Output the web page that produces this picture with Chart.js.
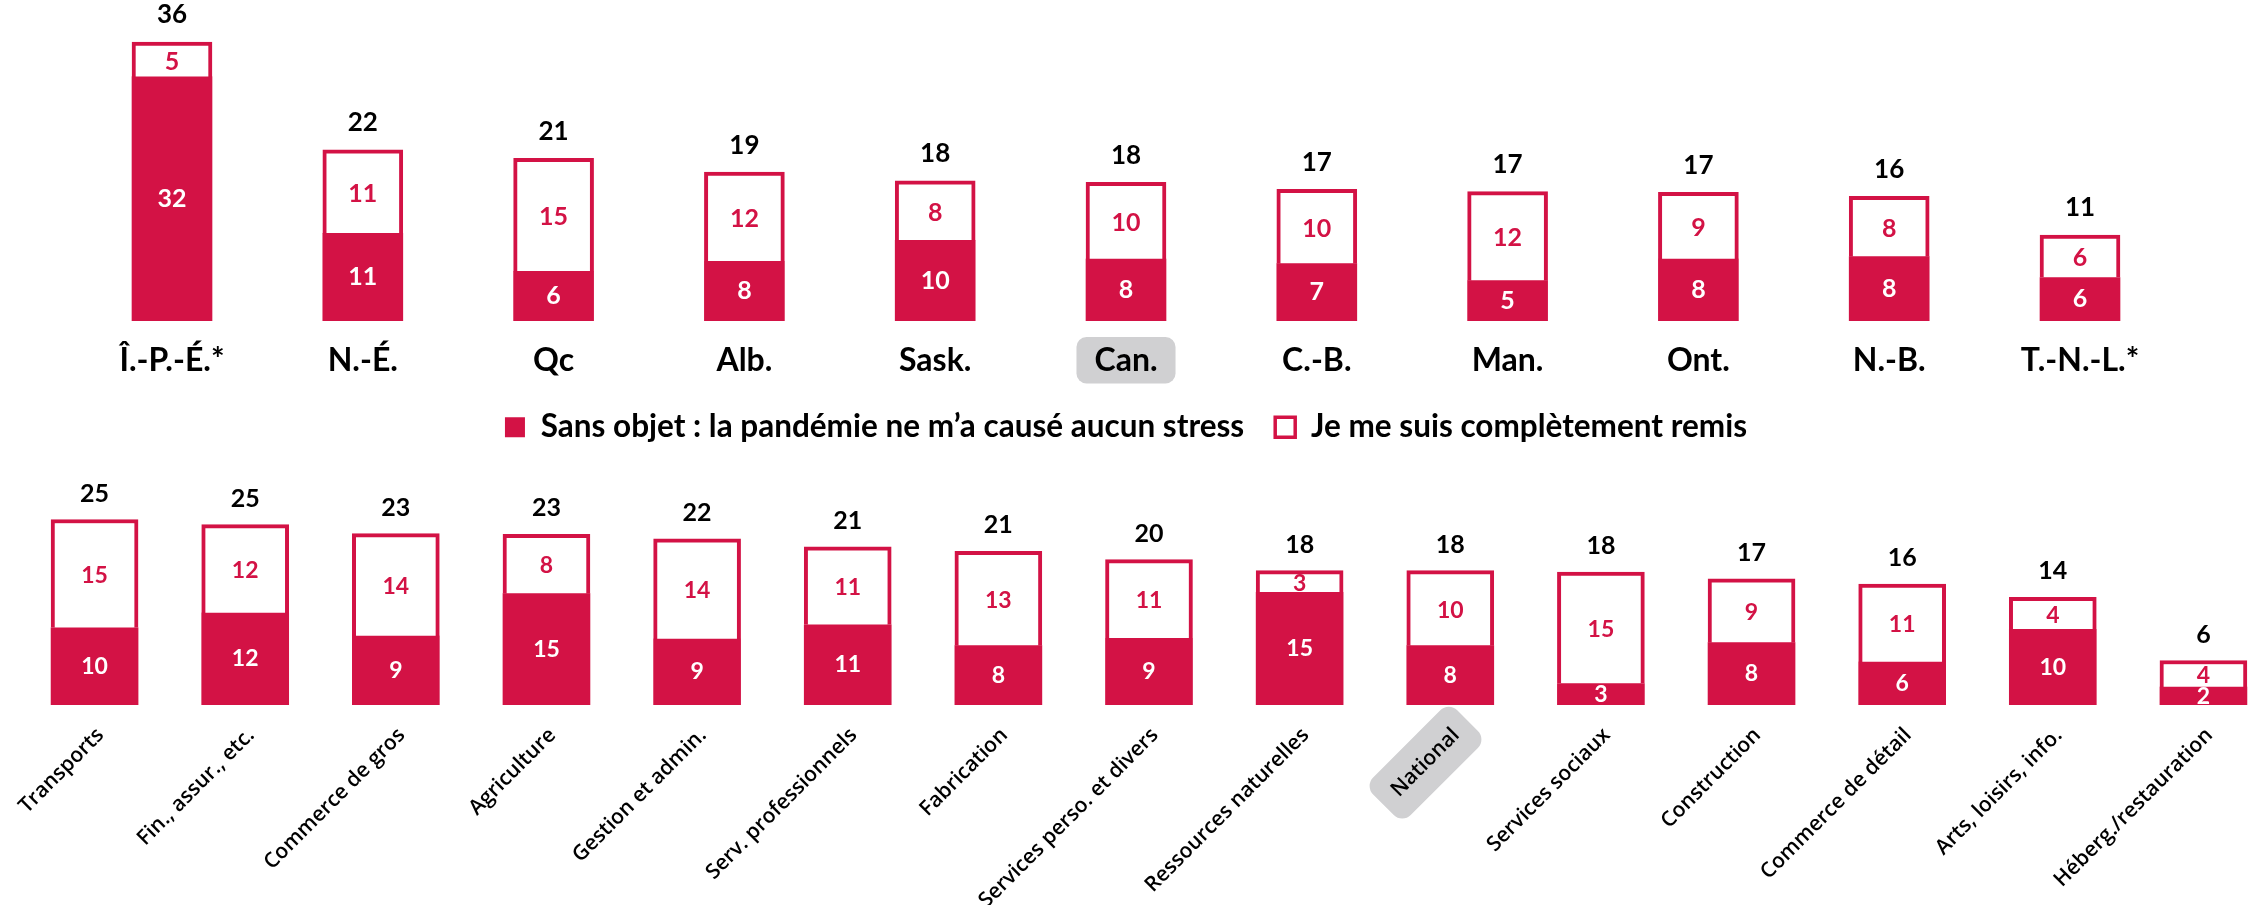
<!DOCTYPE html>
<html lang="fr">
<head>
<meta charset="utf-8">
<title>Stress lié à la pandémie</title>
<script src="https://cdn.jsdelivr.net/npm/chart.js@4.4.1/dist/chart.umd.min.js"></script>
<style>
  html, body { margin: 0; padding: 0; background: #fff; overflow: hidden; }
  body { width: 2259px; height: 905px; position: relative; }
  #wrapTop { position: absolute; left: 0; top: 0; width: 2259px; height: 453px; }
  #wrapBottom { position: absolute; left: 0; top: 453px; width: 2300px; height: 452px; }
</style>
</head>
<body>
<div id="wrapTop"><canvas id="provChart"></canvas></div>
<div id="wrapBottom"><canvas id="sectorChart"></canvas></div>
<script>
// provinces (top chart)
const provinces = ['Î.-P.-É.*', 'N.-É.', 'Qc', 'Alb.', 'Sask.', 'Can.', 'C.-B.', 'Man.', 'Ont.', 'N.-B.', 'T.-N.-L.*'];
const provNoStress = [31.5, 11.3, 6.4, 7.7, 10.4, 8.0, 7.4, 5.2, 8.0, 8.3, 5.6];
const provRecovered = [4.5, 10.8, 14.6, 11.5, 7.7, 9.9, 9.6, 11.5, 8.6, 7.8, 5.5];
const provTotals = [36, 22, 21, 19, 18, 18, 17, 17, 17, 16, 11];

// sectors (bottom chart)
const sectors = ['Transports', 'Fin., assur., etc.', 'Commerce de gros', 'Agriculture', 'Gestion et admin.',
  'Serv. professionnels', 'Fabrication', 'Services perso. et divers', 'Ressources naturelles', 'National',
  'Services sociaux', 'Construction', 'Commerce de détail', 'Arts, loisirs, info.', 'Héberg./restauration'];
const sectNoStress = [10.4, 12.4, 9.3, 15.0, 8.9, 10.8, 8.0, 9.0, 15.2, 8.0, 2.9, 8.4, 5.8, 10.2, 2.4];
const sectRecovered = [14.6, 11.9, 13.8, 8.0, 13.5, 10.5, 12.7, 10.6, 2.9, 10.1, 15.0, 8.6, 10.5, 4.3, 3.6];
const sectTotals = [25, 25, 23, 23, 22, 21, 21, 20, 18, 18, 18, 17, 16, 14, 6];

const seriesNames = ['Sans objet : la pandémie ne m’a causé aucun stress', 'Je me suis complètement remis'];
const highlighted = ['Can.', 'National'];

const RED = '#D31245';
const GREY = '#D0D0D2';

// numbers inside the segments and totals above the stacks
const stackLabels = {
    id: 'stackLabels',
    afterDatasetsDraw(chart, args, opts) {
        const ctx = chart.ctx;
        ctx.save();
        ctx.textAlign = 'center';
        ctx.textBaseline = 'middle';
        ctx.font = 'bold ' + opts.innerSize + 'px Lato';
        chart.data.datasets.forEach((ds, di) => {
            chart.getDatasetMeta(di).data.forEach((bar, i) => {
                const top = Math.min(bar.y, bar.base);
                const bottom = Math.max(bar.y, bar.base);
                ctx.fillStyle = di === 0 ? '#fff' : RED;
                ctx.fillText(Math.round(ds.data[i]), bar.x, (top + bottom) / 2 + (di === 1 ? 2 : 0));
            });
        });
        ctx.font = 'bold ' + opts.totalSize + 'px Lato';
        ctx.fillStyle = '#000';
        chart.getDatasetMeta(1).data.forEach((bar, i) => {
            ctx.fillText(opts.totals[i], bar.x, bar.y - opts.totalGap);
        });
        ctx.restore();
    }
};

// grey rounded box behind the reference category label
const tickHighlight = {
    id: 'tickHighlight',
    beforeDraw(chart, args, opts) {
        const scale = chart.scales.x;
        const ctx = chart.ctx;
        scale.getLabelItems().forEach(item => {
            if (!highlighted.includes(item.label)) return;
            const o = item.options;
            ctx.save();
            ctx.font = item.font.string;
            const w = ctx.measureText(item.label).width;
            const h = item.font.lineHeight;
            ctx.translate(o.translation[0], o.translation[1]);
            ctx.rotate(o.rotation);
            let left = 0;
            if (o.textAlign === 'center') left = -w / 2;
            else if (o.textAlign === 'right') left = -w;
            ctx.beginPath();
            ctx.roundRect(left - opts.padX, item.textOffset - h / 2 - opts.padY, w + 2 * opts.padX, h + 2 * opts.padY, opts.radius);
            ctx.fillStyle = GREY;
            ctx.fill();
            ctx.restore();
        });
    }
};

function makeDatasets(noStress, recovered) {
    return [
        { label: seriesNames[0], data: noStress, backgroundColor: RED, borderWidth: 0 },
        { label: seriesNames[1], data: recovered, backgroundColor: '#fff', borderColor: RED,
          borderWidth: { top: 4, left: 4, right: 4, bottom: 0 } }
    ];
}

// fixed axis band, no extra room for the rotated labels
function fixAxis(height) {
    return s => {
        s.height = height;
        s.paddingLeft = 0;
        s.paddingRight = 0;
    };
}

// top chart: provinces
new Chart(document.getElementById('provChart'), {
    type: 'bar',
    data: { labels: provinces, datasets: makeDatasets(provNoStress, provRecovered) },
    options: {
        responsive: true,
        maintainAspectRatio: false,
        animation: false,
        layout: { padding: { left: 76.6, right: 83.6, top: 11, bottom: 0 } },
        datasets: { bar: { barThickness: 80 } },
        scales: {
            x: {
                stacked: true,
                grid: { display: false, drawTicks: false },
                border: { display: false },
                ticks: { color: '#000', font: { family: 'Lato', weight: 'bold', size: 32 }, padding: 20, maxRotation: 0, autoSkip: false },
                afterFit: fixAxis(59.5)
            },
            y: { stacked: true, display: false, min: 0, max: 40 }
        },
        plugins: {
            legend: {
                position: 'bottom',
                labels: {
                    color: '#000',
                    font: { family: 'Lato', weight: 'bold', size: 31.5 },
                    boxWidth: 20,
                    boxHeight: 20,
                    padding: 31,
                    generateLabels: chart => chart.data.datasets.map((ds, i) => ({
                        text: ds.label,
                        fillStyle: ds.backgroundColor,
                        strokeStyle: RED,
                        lineWidth: i === 0 ? 0 : 3.5,
                        hidden: false,
                        datasetIndex: i,
                        fontColor: '#000'
                    }))
                }
            },
            tooltip: { enabled: false },
            stackLabels: { totals: provTotals, innerSize: 25, totalSize: 26, totalGap: 27 },
            tickHighlight: { padX: 18, padY: 4, radius: 10 }
        }
    },
    plugins: [tickHighlight, stackLabels]
});

// bottom chart: sectors
new Chart(document.getElementById('sectorChart'), {
    type: 'bar',
    data: { labels: sectors, datasets: makeDatasets(sectNoStress, sectRecovered) },
    options: {
        responsive: true,
        maintainAspectRatio: false,
        animation: false,
        layout: { padding: { left: 19.25, right: 21.25, top: 29.4, bottom: 0 } },
        datasets: { bar: { barThickness: 87 } },
        scales: {
            x: {
                stacked: true,
                grid: { display: false, drawTicks: false },
                border: { display: false },
                ticks: { color: '#000', font: { family: 'Open Sans', weight: '600', size: 21 }, padding: 18,
                         labelOffset: 6, minRotation: 45, maxRotation: 45, autoSkip: false },
                afterFit: fixAxis(200)
            },
            y: { stacked: true, display: false, min: 0, max: 30 }
        },
        plugins: {
            legend: { display: false },
            tooltip: { enabled: false },
            stackLabels: { totals: sectTotals, innerSize: 23, totalSize: 25, totalGap: 26 },
            tickHighlight: { padX: 16, padY: 14, radius: 12 }
        }
    },
    plugins: [tickHighlight, stackLabels]
});
</script>
</body>
</html>
